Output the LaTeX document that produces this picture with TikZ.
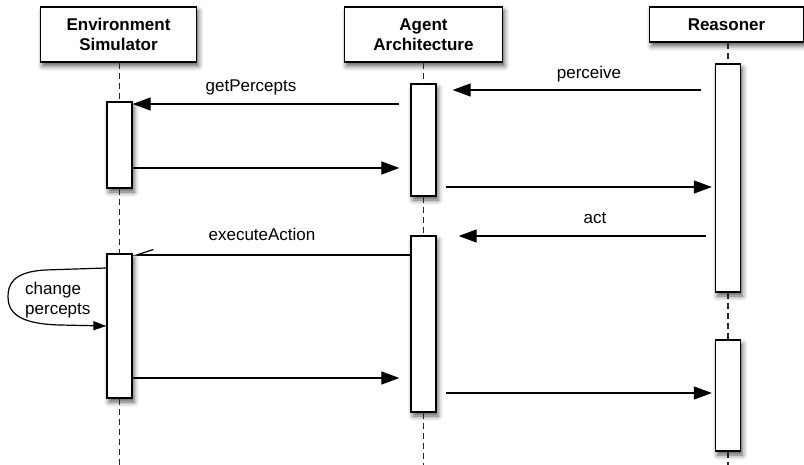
\documentclass[tikz,border=0pt]{standalone}
\usepackage{fontspec}
\setmainfont{Liberation Sans}
\usetikzlibrary{arrows.meta,calc,shadows.blur}
\begin{document}
\begin{tikzpicture}[x=1pt,y=-1pt,
  every node/.style={font=\fontsize{17}{20}\selectfont},
  softshadow/.style={blur shadow={shadow xshift=2pt,shadow yshift=-4pt,shadow blur radius=5pt,shadow opacity=65}},
  header/.style={draw,line width=1.3pt,fill=white,align=center,inner sep=0pt,
    font=\fontsize{17}{20}\selectfont\bfseries,softshadow},
  bar/.style={draw,line width=1.3pt,fill=white,minimum width=25pt,inner sep=0pt,softshadow},
  life/.style={line width=1.1pt,draw=black!85,dash pattern=on 6pt off 4pt},
  msg/.style={line width=1.2pt,-{Triangle[length=18pt,width=13pt]}},
  lbl/.style={anchor=base,inner sep=0pt}]
\useasboundingbox (0,0) rectangle (804,465);

% participants
\node[header,minimum width=156pt,minimum height=55pt] (env) at (118.5,34.5) {Environment\\Simulator};
\node[header,minimum width=158pt,minimum height=55pt] (agent) at (423.5,34.5) {Agent\\Architecture};
\node[header,minimum width=154pt,minimum height=35pt] (reas) at (726.5,24.5) {Reasoner};

% activation bars
\node[bar,minimum height=86pt]  (e1) at (119.5,145) {};
\node[bar,minimum height=144pt] (e2) at (119.5,326) {};
\node[bar,minimum height=112pt] (a1) at (423.5,140) {};
\node[bar,minimum height=176pt] (a2) at (423.5,324) {};
\node[bar,minimum height=228pt] (r1) at (728,178) {};
\node[bar,minimum height=111pt] (r2) at (728,395.5) {};

% lifeline ends
\coordinate (eend) at (119.5,465);
\coordinate (aend) at (423.5,465);
\coordinate (rend) at (728,465);

% lifelines
\draw[life] (env.south -| e1.north) -- (e1.north);
\draw[life] (e1.south) -- (e2.north);
\draw[life] (e2.south) -- (eend);
\draw[life] (agent.south) -- (a1.north);
\draw[life] (a1.south) -- (a2.north);
\draw[life] (a2.south) -- (aend);
\draw[life] (reas.south -| r1.north) -- (r1.north);
\draw[life] (r1.south) -- (r2.north);
\draw[life] (r2.south) -- (rend);

% message rows
\coordinate (yPer) at (0,90);
\coordinate (yGet) at (0,104);
\coordinate (yRetA) at (0,168);
\coordinate (yOutA) at (0,187);
\coordinate (yAct) at (0,236);
\coordinate (yExe) at (0,255);
\coordinate (ySelfA) at (0,268);
\coordinate (ySelfB) at (0,326);
\coordinate (yRetB) at (0,378);
\coordinate (yOutB) at (0,393);

% perceive cycle
\draw[msg] ($(r1.west |- yPer)+(-14,0)$) -- ($(a1.east |- yPer)+(16,0)$);
\node[lbl] (lper) at (589,79) {perceive};
\draw[msg] ($(a1.west |- yGet)+(-11,0)$) -- (e1.east |- yGet);
\node[lbl] (lget) at (251,92) {getPercepts};
\draw[msg] (e1.east |- yRetA) -- ($(a1.west |- yRetA)+(-11,0)$);
\draw[msg] ($(a1.east |- yOutA)+(9,0)$) -- ($(r1.west |- yOutA)+(-3,0)$);

% act cycle
\draw[msg] ($(r1.west |- yAct)+(-9,0)$) -- ($(a2.east |- yAct)+(22,0)$);
\node[lbl] (lact) at (595,224) {act};
\draw[line width=1.2pt,-{Straight Barb[right,length=17pt,width=11pt]}] (a2.west |- yExe) -- (e2.east |- yExe);
\node[lbl] (lexe) at (262,241) {executeAction};
\draw[line width=1.2pt,-{Triangle[length=13pt,width=9pt]}]
  (e2.west |- ySelfA) -- (45,270) .. controls (12,272) and (8,285) .. (8,297)
  .. controls (8,312) and (18,324) .. (60,325) -- (e2.west |- ySelfB);
\node[anchor=west,align=left,inner sep=0pt] (lchg) at (25,300) {change\\percepts};
\draw[msg] (e2.east |- yRetB) -- ($(a2.west |- yRetB)+(-11,0)$);
\draw[msg] ($(a2.east |- yOutB)+(9,0)$) -- ($(r2.west |- yOutB)+(-3,0)$);
\end{tikzpicture}
\end{document}
